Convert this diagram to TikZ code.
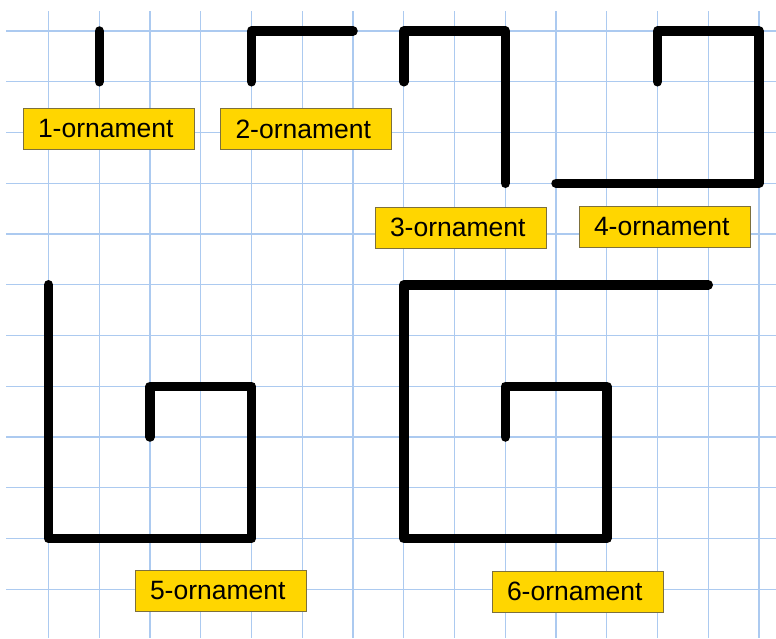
\documentclass[tikz,border=0pt]{standalone}
\usepackage{fontspec}
\setmainfont{Liberation Sans}
\definecolor{gridblue}{RGB}{172,202,240}
\definecolor{labelyellow}{RGB}{255,214,0}
\definecolor{labelborder}{RGB}{125,112,60}
\tikzset{
  gridline/.style={draw=gridblue, line width=1.1pt},
  orn/.style={draw=black, line width=9.5pt, line cap=round, line join=round},
  lbl/.style={fill=labelyellow, draw=labelborder, line width=0.8pt,
    minimum width=171pt, minimum height=41pt, text width=141pt,
    inner xsep=15pt, inner ysep=0pt, align=left,
    font=\fontsize{26.5}{30}\selectfont, text=black}
}
\newcommand{\gx}[1]{\fpeval{48.5+50.75*#1}}
\newcommand{\gy}[1]{\fpeval{31+50.75*#1}}
\begin{document}
\begin{tikzpicture}[x=1pt,y=-1pt]
\useasboundingbox (0,0) rectangle (776,638);
\fill[white] (0,0) rectangle (776,638);
% grid
\foreach \i in {0,...,14} {
  \draw[gridline] ({48.5+50.75*\i},11) -- ({48.5+50.75*\i},638);
}
\foreach \j in {0,...,11} {
  \draw[gridline] (6,{31+50.75*\j}) -- (776,{31+50.75*\j});
}
% ornaments (grid coordinates)
\begin{scope}[shift={(48.5,31)}, x=50.75pt, y=-50.75pt]
  \draw[orn] (1,0) -- (1,1);
  \draw[orn] (4,1) -- (4,0) -- (6,0);
  \draw[orn] (7,1) -- (7,0) -- (9,0) -- (9,3);
  \draw[orn] (12,1) -- (12,0) -- (14,0) -- (14,3) -- (10,3);
  \draw[orn] (2,8) -- (2,7) -- (4,7) -- (4,10) -- (0,10) -- (0,5);
  \draw[orn] (9,8) -- (9,7) -- (11,7) -- (11,10) -- (7,10) -- (7,5) -- (13,5);
\end{scope}
% labels
\node[lbl] (l1) at (108.5,128.5) {1-ornament};
\node[lbl] (l2) at (306,129) {2-ornament};
\node[lbl] (l3) at (460.5,227.5) {3-ornament};
\node[lbl] (l4) at (664.5,226.5) {4-ornament};
\node[lbl] (l5) at (220.5,591) {5-ornament};
\node[lbl] (l6) at (577.5,591.5) {6-ornament};
\end{tikzpicture}
\end{document}
